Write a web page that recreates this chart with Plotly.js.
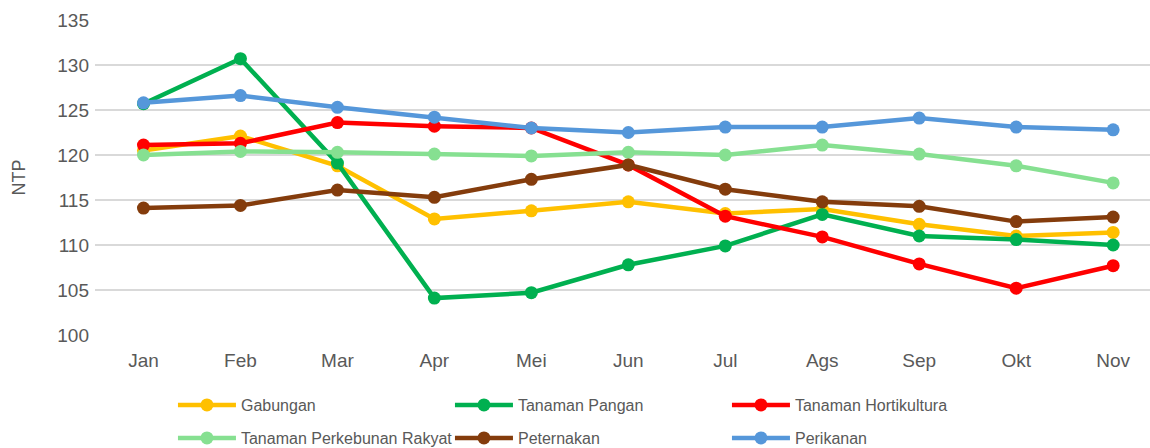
<!DOCTYPE html>
<html>
<head>
<meta charset="utf-8">
<script src="https://cdn.plot.ly/plotly-3.0.1.min.js"></script>
<style>html,body{margin:0;padding:0;background:#fff;}#chart{width:1150px;height:448px;}</style>
</head>
<body>
<div id="chart"></div>
<script>
const months = ["Jan","Feb","Mar","Apr","Mei","Jun","Jul","Ags","Sep","Okt","Nov"];
const seriesNames = ["Gabungan","Tanaman Pangan","Tanaman Hortikultura","Tanaman Perkebunan Rakyat","Peternakan","Perikanan"];
const gabungan    = [120.5, 122.1, 118.8, 112.9, 113.8, 114.8, 113.5, 114.0, 112.3, 111.0, 111.4];
const pangan      = [125.7, 130.7, 119.1, 104.1, 104.7, 107.8, 109.9, 113.4, 111.0, 110.6, 110.0];
const hortikultura= [121.1, 121.3, 123.6, 123.2, 123.0, 118.9, 113.2, 110.9, 107.9, 105.2, 107.7];
const perkebunan  = [120.0, 120.4, 120.3, 120.1, 119.9, 120.3, 120.0, 121.1, 120.1, 118.8, 116.9];
const peternakan  = [114.1, 114.4, 116.1, 115.3, 117.3, 118.9, 116.2, 114.8, 114.3, 112.6, 113.1];
const perikanan   = [125.8, 126.6, 125.3, 124.2, 123.0, 122.5, 123.1, 123.1, 124.1, 123.1, 122.8];
const colors = ["#FFC000","#00B050","#FF0000","#86E091","#843C0C","#5597DA"];
const values = [gabungan, pangan, hortikultura, perkebunan, peternakan, perikanan];

const traces = values.map((v, i) => ({
  x: months, y: v, name: seriesNames[i], type: "scatter", mode: "lines+markers",
  line: {color: colors[i], width: 4.5},
  marker: {color: colors[i], size: 13},
  legend: i < 3 ? "legend" : "legend2"
}));
const legendCommon = {
  orientation: "h", xref: "container", yref: "container",
  x: 0.1504, xanchor: "left", yanchor: "middle",
  entrywidth: 204, entrywidthmode: "pixels", itemwidth: 58,
  font: {size: 16, color: "#595959"}, traceorder: "normal", bgcolor: "rgba(0,0,0,0)"
};
const layout = {
  width: 1150, height: 448,
  margin: {l: 95, r: 0, t: 20, b: 113},
  paper_bgcolor: "#fff", plot_bgcolor: "#fff",
  font: {family: "Liberation Sans, Arial, sans-serif", color: "#595959"},
  xaxis: {
    type: "category", range: [-0.5, 10.38], showgrid: false, zeroline: false,
    showline: false, ticks: "", tickfont: {size: 19, color: "#595959"}, automargin: false,
    ticklabelstandoff: 12
  },
  yaxis: {
    range: [100, 135], dtick: 5, showgrid: true, gridcolor: "#D9D9D9", gridwidth: 1.5,
    zeroline: false, showline: false, ticks: "", tickfont: {size: 19, color: "#595959"},
    ticklabelstandoff: 5, automargin: false,
    title: {text: "NTP", font: {size: 18, color: "#595959"}, standoff: 26}
  },
  showlegend: true,
  legend: Object.assign({}, legendCommon, {y: 1 - 405/448}),
  legend2: Object.assign({}, legendCommon, {y: 1 - 438/448})
};
Plotly.newPlot("chart", traces, layout, {displayModeBar: false, staticPlot: true});
</script>
</body>
</html>
